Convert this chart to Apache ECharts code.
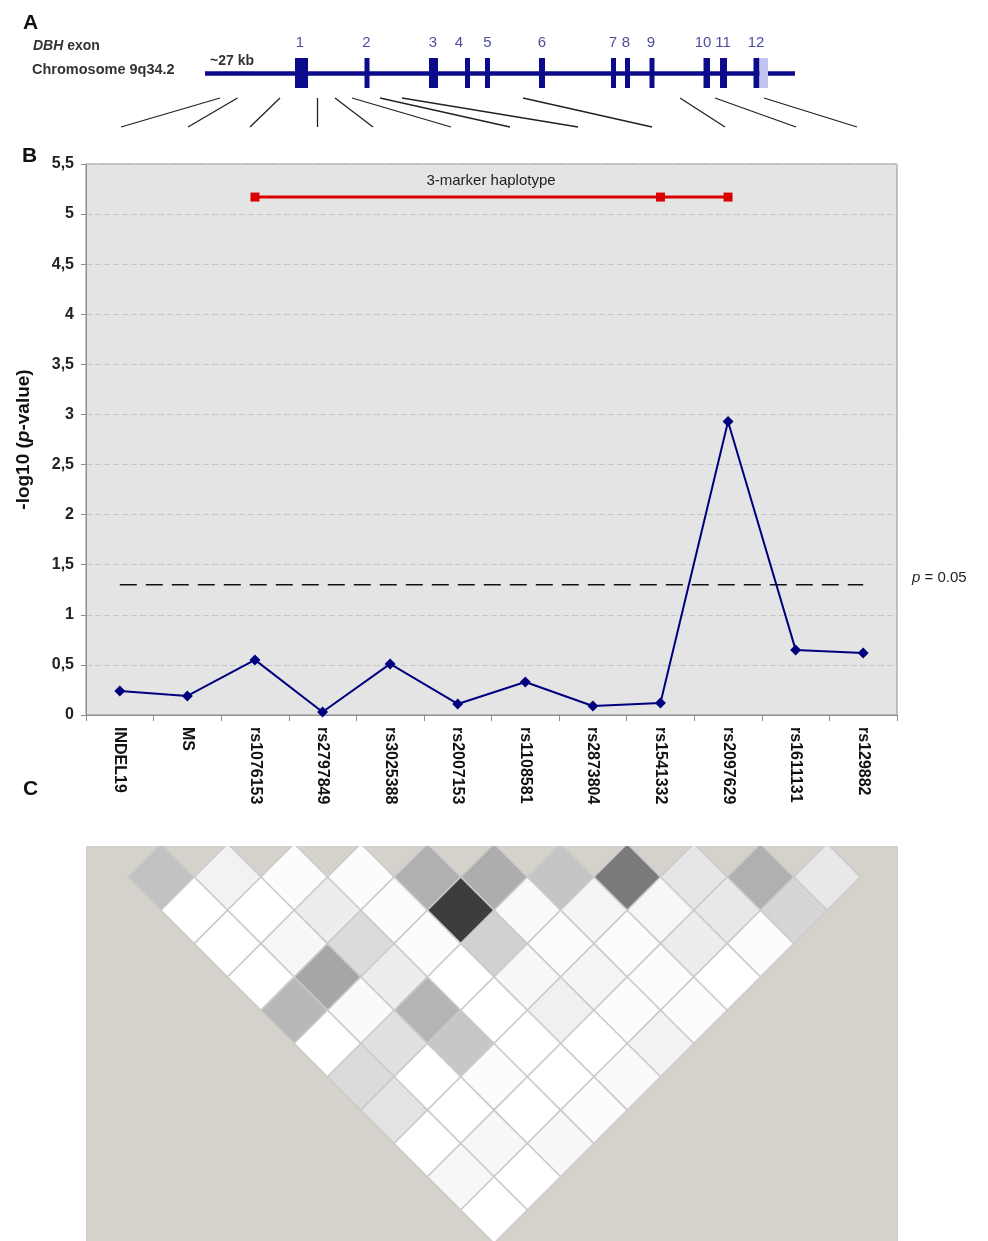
<!DOCTYPE html>
<html lang="en">
<head>
<meta charset="UTF-8">
<title>DBH association and LD</title>
<script src="https://cdn.jsdelivr.net/npm/echarts@6/dist/echarts.min.js"></script>
<style>
  html, body { margin: 0; padding: 0; background: #fff; }
  #main { width: 988px; height: 1241px; }
</style>
</head>
<body>
<div id="main"></div>
<script type="text/javascript">
    // ---- panel A: gene schematic (positions on the drawing's own scale) ----
    var geneSpan = [205, 795];
    var exonStart = [295, 364.5, 429, 465, 485, 539, 611, 625, 649.5, 703.5, 720, 753.5, 759.5];
    var exonEnd   = [308, 369.5, 438, 470, 490, 545, 616, 630, 654.5, 710, 727, 759.5, 768];
    var exonKind  = [0, 0, 0, 0, 0, 0, 0, 0, 0, 0, 0, 0, 1];   // 1 = UTR
    var exonLabels = ['1', '2', '3', '4', '5', '6', '7', '8', '9', '10', '11', '12'];
    var exonLabelPos = [300, 366.5, 433, 459, 487.5, 542, 613, 626, 651, 703, 723, 756];
    // where each marker sits on the gene, and where its connector lands
    var snpGenePos = [220, 237.5, 280, 317, 335, 352, 380, 402, 523, 680, 715, 764];
    var snpAxisPos = [121, 188, 250, 317, 373, 451, 510, 578, 652, 725, 796, 857];

    // ---- panel B: single marker association ----
    var markers = ['INDEL19', 'MS', 'rs1076153', 'rs2797849', 'rs3025388', 'rs2007153',
                   'rs1108581', 'rs2873804', 'rs1541332', 'rs2097629', 'rs1611131', 'rs129882'];
    var logP = [0.24, 0.19, 0.55, 0.03, 0.51, 0.11, 0.33, 0.09, 0.12, 2.93, 0.65, 0.62];
    var haploMarkers = ['rs1076153', 'rs1541332', 'rs2097629'];
    var haploLogP = 5.17;
    var pThreshold = 0.05;

    // ---- panel C: pairwise LD (x100), one row per marker distance ----
    var ldRows = [
        [24, 5, 1, 1, 31, 32, 23, 52, 10, 31, 9],
        [0, 0, 7, 1, 76, 2, 4, 3, 9, 16],
        [0, 3, 14, 1, 18, 1, 1, 7, 1],
        [0, 35, 7, 0, 3, 4, 1, 0],
        [28, 2, 29, 0, 6, 1, 1],
        [0, 12, 22, 0, 0, 5],
        [14, 0, 1, 0, 2],
        [11, 0, 0, 1],
        [0, 3, 3],
        [3, 0],
        [0]
    ];

    var geneY = 73, exonHalf = 15, connTop = 98, connBottom = 127;
    var font = 'Liberation Sans, Arial, sans-serif';

    var exonData = exonStart.map(function (s, k) { return [s, exonEnd[k], exonKind[k]]; });
    var exonLabelData = exonLabelPos.map(function (x, k) { return { value: [x, 43], name: exonLabels[k] }; });
    var connData = snpGenePos.map(function (x, k) {
        return { coords: [[x, connTop], [snpAxisPos[k], connBottom]] };
    });
    var ldData = [];
    ldRows.forEach(function (row, r) {
        var d = r + 1;
        row.forEach(function (v, i) { ldData.push([i + d / 2, d, v]); });
    });

    function renderExon(params, api) {
        var s = api.coord([api.value(0), geneY]);
        var e = api.coord([api.value(1), geneY]);
        var h = api.size([0, exonHalf])[1];
        return {
            type: 'rect',
            shape: { x: s[0], y: s[1] - h, width: e[0] - s[0], height: 2 * h },
            style: { fill: api.value(2) === 1 ? '#c4c4f0' : '#0b0b8c' }
        };
    }

    function renderLD(params, api) {
        var c = api.coord([api.value(0), api.value(1)]);
        var w = api.size([0.5, 0])[0];
        var h = api.size([0, 1])[1];
        var g = Math.round(255 - api.value(2) * 2.55);
        return {
            type: 'polygon',
            shape: { points: [[c[0], c[1] - h], [c[0] + w, c[1]], [c[0], c[1] + h], [c[0] - w, c[1]]] },
            style: { fill: 'rgb(' + g + ',' + g + ',' + g + ')', stroke: '#cbcbcb', lineWidth: 1.5 }
        };
    }

    var chart = echarts.init(document.getElementById('main'));

    var option = {
        animation: false,
        textStyle: { fontFamily: font },
        grid: [
            { left: 0, right: 0, top: 0, height: 140 },
            { left: 86, right: 91, top: 164, height: 551, show: true,
              backgroundColor: '#e4e4e4', borderColor: '#8e8e8e', borderWidth: 1 },
            { left: 86, right: 90, top: 846, bottom: 0, show: true,
              backgroundColor: '#d5d1cb', borderWidth: 0 }
        ],
        xAxis: [
            { gridIndex: 0, type: 'value', min: 0, max: 988, show: false },
            { gridIndex: 1, type: 'category', data: markers, boundaryGap: true,
              axisLine: { lineStyle: { color: '#8e8e8e' } },
              axisTick: { show: true, length: 6, lineStyle: { color: '#8e8e8e' } },
              axisLabel: { rotate: -90, margin: 12, color: '#111', fontWeight: 'bold', fontSize: 16, fontFamily: font },
              splitLine: { show: false } },
            { gridIndex: 2, type: 'value', min: -0.626, max: 11.566, show: false }
        ],
        yAxis: [
            { gridIndex: 0, type: 'value', min: 0, max: 140, inverse: true, show: false },
            { gridIndex: 1, type: 'value', min: 0, max: 5.5, interval: 0.5,
              name: '-log10 ({i|p}-value)', nameLocation: 'middle', nameGap: 53,
              nameTextStyle: { color: '#111', fontWeight: 'bold', fontSize: 19, fontFamily: font,
                  rich: { i: { fontStyle: 'italic', fontWeight: 'bold', fontSize: 19, fontFamily: font, color: '#111' } } },
              axisLine: { show: true, lineStyle: { color: '#8e8e8e' } },
              axisTick: { show: true, length: 5, lineStyle: { color: '#8e8e8e' } },
              axisLabel: { color: '#222', fontWeight: 'bold', fontSize: 16, margin: 12, fontFamily: font,
                  formatter: function (v) { return String(v).replace('.', ','); } },
              splitLine: { show: true, lineStyle: { color: '#c6c6c6', type: [6, 3], width: 1 } } },
            { gridIndex: 2, type: 'value', min: 0.069, max: 11.93, inverse: true, show: false }
        ],
        graphic: [
            { type: 'text', left: 23, top: 13, style: { text: 'A', font: 'bold 21px ' + font, fill: '#111' } },
            { type: 'text', left: 22, top: 146, style: { text: 'B', font: 'bold 21px ' + font, fill: '#111' } },
            { type: 'text', left: 23, top: 779, style: { text: 'C', font: 'bold 21px ' + font, fill: '#111' } },
            { type: 'text', left: 33, top: 39, style: {
                text: '{i|DBH} exon', font: 'bold 14px ' + font, fill: '#333',
                rich: { i: { fontStyle: 'italic', fontWeight: 'bold', fontSize: 14, fontFamily: font, fill: '#333' } } } },
            { type: 'text', left: 32, top: 62, style: { text: 'Chromosome 9q34.2', font: 'bold 14.5px ' + font, fill: '#333' } },
            { type: 'text', left: 210, top: 54, style: { text: '~27 kb', font: 'bold 14px ' + font, fill: '#333' } },
            { type: 'text', x: 491, y: 181, style: { text: '3-marker haplotype', font: '15px ' + font, fill: '#222',
                align: 'center', verticalAlign: 'middle' } },
            { type: 'text', left: 912, top: 570, style: {
                text: '{i|p} = 0.05', font: '15px ' + font, fill: '#222',
                rich: { i: { fontStyle: 'italic', fontSize: 15, fontFamily: font, fill: '#222' } } } }
        ],
        series: [
            // panel A
            { type: 'lines', coordinateSystem: 'cartesian2d', xAxisIndex: 0, yAxisIndex: 0, silent: true,
              data: [{ coords: [[geneSpan[0], geneY], [geneSpan[1], geneY]] }],
              lineStyle: { color: '#0b0b8c', width: 4.5, opacity: 1 } },
            { type: 'custom', xAxisIndex: 0, yAxisIndex: 0, renderItem: renderExon, data: exonData, silent: true },
            { type: 'scatter', xAxisIndex: 0, yAxisIndex: 0, symbolSize: 0, data: exonLabelData, silent: true,
              label: { show: true, position: 'inside', formatter: '{b}', color: '#1c1c84', fontSize: 15, fontFamily: font } },
            { type: 'lines', coordinateSystem: 'cartesian2d', xAxisIndex: 0, yAxisIndex: 0, silent: true,
              data: connData, lineStyle: { color: '#222', width: 1.3, opacity: 1 } },
            // panel B
            { type: 'line', xAxisIndex: 1, yAxisIndex: 1, symbol: 'none', silent: true,
              data: [[0, -Math.log10(pThreshold)], [markers.length - 1, -Math.log10(pThreshold)]],
              lineStyle: { color: '#111', width: 1.5, type: [17, 9] } },
            { type: 'line', xAxisIndex: 1, yAxisIndex: 1, data: logP, symbol: 'diamond', symbolSize: 11,
              itemStyle: { color: '#00007f' }, lineStyle: { color: '#00007f', width: 2 } },
            { type: 'line', xAxisIndex: 1, yAxisIndex: 1, symbol: 'rect', symbolSize: 9,
              data: haploMarkers.map(function (m) { return [m, haploLogP]; }),
              itemStyle: { color: '#d90000' }, lineStyle: { color: '#d90000', width: 3 } },
            // panel C
            { type: 'custom', xAxisIndex: 2, yAxisIndex: 2, renderItem: renderLD, data: ldData, clip: true, silent: true }
        ]
    };

    chart.setOption(option);
</script>
</body>
</html>
